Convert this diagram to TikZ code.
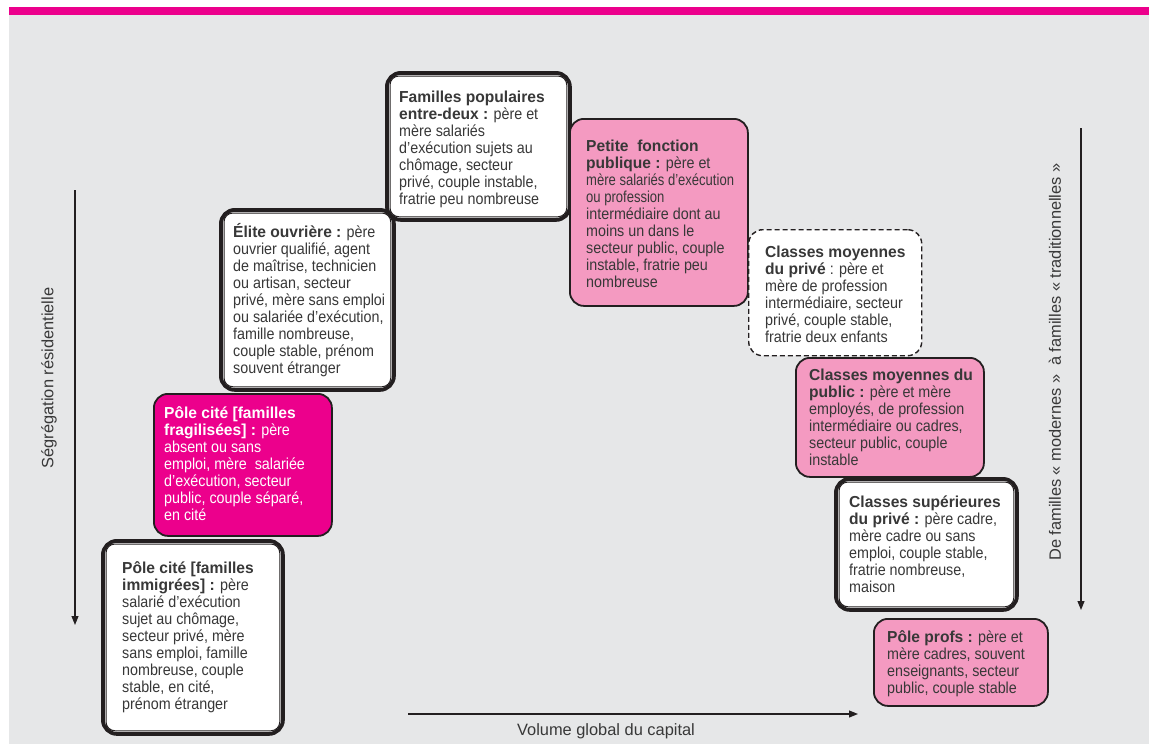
\documentclass[tikz,border=0pt]{standalone}
\usepackage{fontspec}
\setmainfont{Liberation Sans}[FakeStretch=0.90]
\newfontfamily\bfam{Liberation Sans}[FakeStretch=0.98]
\newfontfamily\nfam{Liberation Sans}[FakeStretch=0.82]
\newfontfamily\axfam{Liberation Sans}
\usetikzlibrary{arrows.meta}
\definecolor{bggray}{HTML}{E6E7E8}
\definecolor{mg}{HTML}{EC008C}
\definecolor{pk}{HTML}{F49AC1}
\definecolor{dk}{HTML}{231F20}
\definecolor{tx}{HTML}{383838}
\newcommand\B[1]{{\bfam\bfseries #1}}
\newcommand\FL{\rule{0pt}{14.5pt}}
\begin{document}
\begin{tikzpicture}[x=1pt,y=-1pt,
  boxbase/.style={anchor=north west, inner sep=0pt, rounded corners=14pt},
  dbl/.style={boxbase, draw=dk, line width=3.8pt, fill=white},
  inner/.style={draw=dk, line width=1pt, rounded corners=9pt},
  pinkbox/.style={boxbase, draw=dk, line width=1.8pt, fill=pk},
  magbox/.style={boxbase, draw=dk, line width=1.8pt, fill=mg},
  dashbox/.style={boxbase, draw=dk, line width=1.4pt, dash pattern=on 5pt off 3pt, fill=white},
  txt/.style={anchor=north west, inner sep=0pt, align=left, text=tx, font=\fontsize{15.9}{17}\selectfont},
  axis/.style={draw=dk, line width=1.1pt, -{Triangle[length=9pt,width=7pt]}},
  axlab/.style={font=\axfam\fontsize{16.4}{19}\selectfont, text=tx, inner sep=0pt}]
\useasboundingbox (0,0) rectangle (1149,744);
\fill[white] (0,0) rectangle (1149,744);
\fill[bggray] (9,15) rectangle (1149,744);
\fill[mg] (9,7) rectangle (1149,15);

% Elite ouvriere
\node[dbl, minimum width=173pt, minimum height=180pt] (eli) at (219,208) {};
\draw[inner] ([shift={(5,5)}]eli.north west) rectangle ([shift={(-5,-5)}]eli.south east);
\node[txt] (teli) at (233,222.5) {\FL\B{Élite ouvrière :} père\\
ouvrier qualifié, agent\\
de maîtrise, technicien\\
ou artisan, secteur\\
privé, mère sans emploi\\
ou salariée d’exécution,\\
famille nombreuse,\\
couple stable, prénom\\
souvent étranger};

% Familles populaires
\node[dbl, minimum width=183pt, minimum height=147pt] (fam) at (385,71) {};
\draw[inner] ([shift={(5,5)}]fam.north west) rectangle ([shift={(-5,-5)}]fam.south east);
\node[txt] (tfam) at (399,87.5) {\FL\B{Familles populaires}\\
\B{entre-deux :} père et\\
mère salariés\\
d’exécution sujets au\\
chômage, secteur\\
privé, couple instable,\\
fratrie peu nombreuse};

% Petite fonction publique
\node[pinkbox, minimum width=178pt, minimum height=187pt] (pet) at (569,118) {};
\node[txt] (tpet) at (586,136.5) {\FL\B{Petite\ \ fonction}\\
\B{publique :} père et\\
{\nfam mère salariés d’exécution}\\
{\nfam ou profession}\\
intermédiaire dont au\\
moins un dans le\\
secteur public, couple\\
instable, fratrie peu\\
nombreuse};

% Classes moyennes du prive
\node[dashbox, minimum width=173pt, minimum height=126pt] (cmp) at (748,229) {};
\node[txt] (tcmp) at (765,242.5) {\FL\B{Classes moyennes}\\
\B{du privé} : père et\\
mère de profession\\
intermédiaire, secteur\\
privé, couple stable,\\
fratrie deux enfants};

% Classes moyennes du public
\node[pinkbox, minimum width=188pt, minimum height=119pt] (cpu) at (795,357) {};
\node[txt] (tcpu) at (809,365.5) {\FL\B{Classes moyennes du}\\
\B{public :} père et mère\\
employés, de profession\\
intermédiaire ou cadres,\\
secteur public, couple\\
instable};

% Classes superieures du prive
\node[dbl, minimum width=181pt, minimum height=131pt] (sup) at (834,477) {};
\draw[inner] ([shift={(5,5)}]sup.north west) rectangle ([shift={(-5,-5)}]sup.south east);
\node[txt] (tsup) at (849,492.5) {\FL\B{Classes supérieures}\\
\B{du privé :} père cadre,\\
mère cadre ou sans\\
emploi, couple stable,\\
fratrie nombreuse,\\
maison};

% Pole profs
\node[pinkbox, minimum width=174pt, minimum height=87pt] (pro) at (873,618) {};
\node[txt] (tpro) at (887,627.5) {\FL\B{Pôle profs :} père et\\
mère cadres, souvent\\
enseignants, secteur\\
public, couple stable};

% Pole cite fragilisees
\node[magbox, minimum width=178pt, minimum height=142pt] (fra) at (153,393) {};
\node[txt, text=white] (tfra) at (164,403.5) {\FL\B{Pôle cité [familles}\\
\B{fragilisées] :} père\\
absent ou sans\\
emploi, mère\ \ salariée\\
d’exécution, secteur\\
public, couple séparé,\\
en cité};

% Pole cite immigrees
\node[dbl, minimum width=180pt, minimum height=193pt] (imm) at (101,539) {};
\draw[inner] ([shift={(5,5)}]imm.north west) rectangle ([shift={(-5,-5)}]imm.south east);
\node[txt] (timm) at (122,558.5) {\FL\B{Pôle cité [familles}\\
\B{immigrées] :} père\\
salarié d’exécution\\
sujet au chômage,\\
secteur privé, mère\\
sans emploi, famille\\
nombreuse, couple\\
stable, en cité,\\
prénom étranger};

% Axes
\coordinate (la) at (75,190);
\coordinate (lb) at (75,625);
\draw[axis] (la) -- (lb);
\node[axlab, rotate=90] (llab) at (49,378) {Ségrégation résidentielle};

\coordinate (ra) at (1081,128);
\coordinate (rb) at (1081,610);
\draw[axis] (ra) -- (rb);
\node[axlab, rotate=90] (rlab) at (1055,362) {De familles « modernes »\ \ à familles « traditionnelles »};

\coordinate (ba) at (408,714);
\coordinate (bb) at (858,714);
\draw[axis] (ba) -- (bb);
\node[axlab] (blab) at (606,731) {Volume global du capital};
\end{tikzpicture}
\end{document}
